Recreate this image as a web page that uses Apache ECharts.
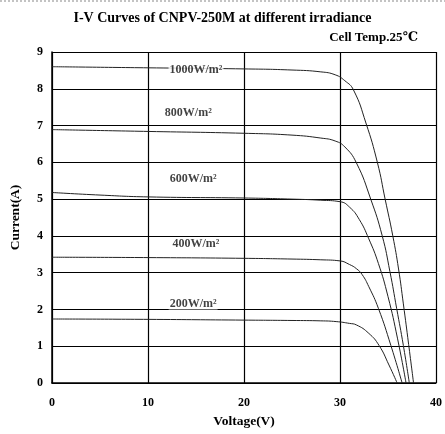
<!DOCTYPE html>
<html>
<head>
<meta charset="utf-8">
<script src="https://cdn.jsdelivr.net/npm/echarts@6/dist/echarts.min.js"></script>
<style>
  html, body { margin: 0; padding: 0; background: #fff; }
  #chart { width: 445px; height: 434px; }
</style>
</head>
<body>
<div id="chart"></div>
<script>
// I-V curves
const v1000 = [0, 10, 20, 25, 28, 29.5, 30.5, 31.4, 32.7, 33.9, 34.7, 35.5, 36.1, 36.6, 37.15, 37.66]
const i1000 = [8.60, 8.57, 8.54, 8.51, 8.46, 8.38, 8.22, 7.97, 7.07, 5.99, 5.0, 4.0, 3.1, 2.15, 1.05, 0]

const v800 = [0, 10, 20, 25, 28, 29.5, 30.5, 31.7, 33.2, 34.4, 35.2, 35.9, 36.6, 37.22]
const i800 = [6.89, 6.84, 6.79, 6.74, 6.66, 6.58, 6.42, 5.99, 5.0, 4.0, 3.03, 2.03, 1.02, 0]

const v600 = [0, 5, 10, 20, 25, 28, 30, 31, 32, 33, 34, 35, 36, 36.88]
const i600 = [5.18, 5.11, 5.06, 5.03, 5.0, 4.97, 4.93, 4.78, 4.45, 3.92, 3.25, 2.35, 1.2, 0]

const v400 = [0, 10, 20, 25, 28, 30, 31, 31.7, 32.3, 33, 34.0, 35.3, 36.47]
const i400 = [3.42, 3.41, 3.39, 3.37, 3.35, 3.32, 3.22, 3.11, 2.95, 2.62, 2.03, 1.02, 0]

const v200 = [0, 10, 20, 25, 28, 29.6, 31, 31.7, 33, 34.07, 35.1, 35.95]
const i200 = [1.74, 1.73, 1.71, 1.70, 1.69, 1.67, 1.62, 1.58, 1.35, 1.02, 0.49, 0]

const curveNames = ['1000W/m²', '800W/m²', '600W/m²', '400W/m²', '200W/m²']
// where each irradiance tag sits (V, A)
const tagV = [15.0, 14.2, 14.7, 15.0, 14.7]
const tagI = [8.51, 7.35, 5.54, 3.78, 2.16]

const FONT = '"Liberation Serif", "DejaVu Serif", serif'

const curves = [[v1000, i1000], [v800, i800], [v600, i600], [v400, i400], [v200, i200]]

const chart = echarts.init(document.getElementById('chart'))

const series = curves.map(([vs, is], k) => ({
  name: curveNames[k],
  type: 'line',
  data: vs.map((v, j) => [v, is[j]]),
  smooth: 0.5,
  symbol: 'none',
  lineStyle: { color: '#222', width: 1 },
  z: 3,
}))

series.push({
  type: 'scatter',
  data: curveNames.map((n, k) => ({ value: [tagV[k], tagI[k]], name: n })),
  symbolSize: 0,
  silent: true,
  z: 5,
  label: {
    show: true,
    position: 'inside',
    formatter: (p) => p.name,
    fontFamily: FONT,
    fontWeight: 'bold',
    fontSize: 12,
    color: '#111',
    backgroundColor: '#fff',
    padding: [0, 1],
  },
})

chart.setOption({
  animation: false,
  backgroundColor: '#fff',
  title: [
    {
      text: 'I-V Curves of CNPV-250M at different irradiance',
      left: 'center',
      top: 6,
      textStyle: { fontFamily: FONT, fontWeight: 'bold', fontSize: 14, color: '#000' },
    },
    {
      text: 'Cell Temp.25℃',
      right: 22,
      top: 26,
      textStyle: { fontFamily: FONT, fontWeight: 'bold', fontSize: 13, color: '#000' },
    },
  ],
  graphic: [
    {
      type: 'line',
      shape: { x1: 0, y1: 1, x2: 445, y2: 1 },
      style: { stroke: '#888', lineWidth: 1, lineDash: [2, 2] },
    },
  ],
  grid: { left: 52, right: 4, top: 52, bottom: 49 },
  xAxis: {
    type: 'value',
    min: 0,
    max: 40,
    interval: 10,
    name: 'Voltage(V)',
    nameLocation: 'middle',
    nameGap: 32,
    nameTextStyle: { fontFamily: FONT, fontWeight: 'bold', fontSize: 13.5, color: '#000' },
    axisLine: { lineStyle: { color: '#000', width: 1.5 } },
    axisTick: { show: false },
    axisLabel: { fontFamily: FONT, fontWeight: 'bold', fontSize: 12, color: '#000', margin: 14 },
    splitLine: { show: true, lineStyle: { color: '#000', width: 1.2 } },
  },
  yAxis: {
    type: 'value',
    min: 0,
    max: 9,
    interval: 1,
    name: 'Current(A)',
    nameLocation: 'middle',
    nameGap: 29,
    nameTextStyle: { fontFamily: FONT, fontWeight: 'bold', fontSize: 13.5, color: '#000' },
    axisLine: { show: true, lineStyle: { color: '#000', width: 1.5 } },
    axisTick: { show: false },
    axisLabel: { fontFamily: FONT, fontWeight: 'bold', fontSize: 12, color: '#000', margin: 9 },
    splitLine: { show: true, lineStyle: { color: '#000', width: 1.2 } },
  },
  series,
})
</script>
</body>
</html>
